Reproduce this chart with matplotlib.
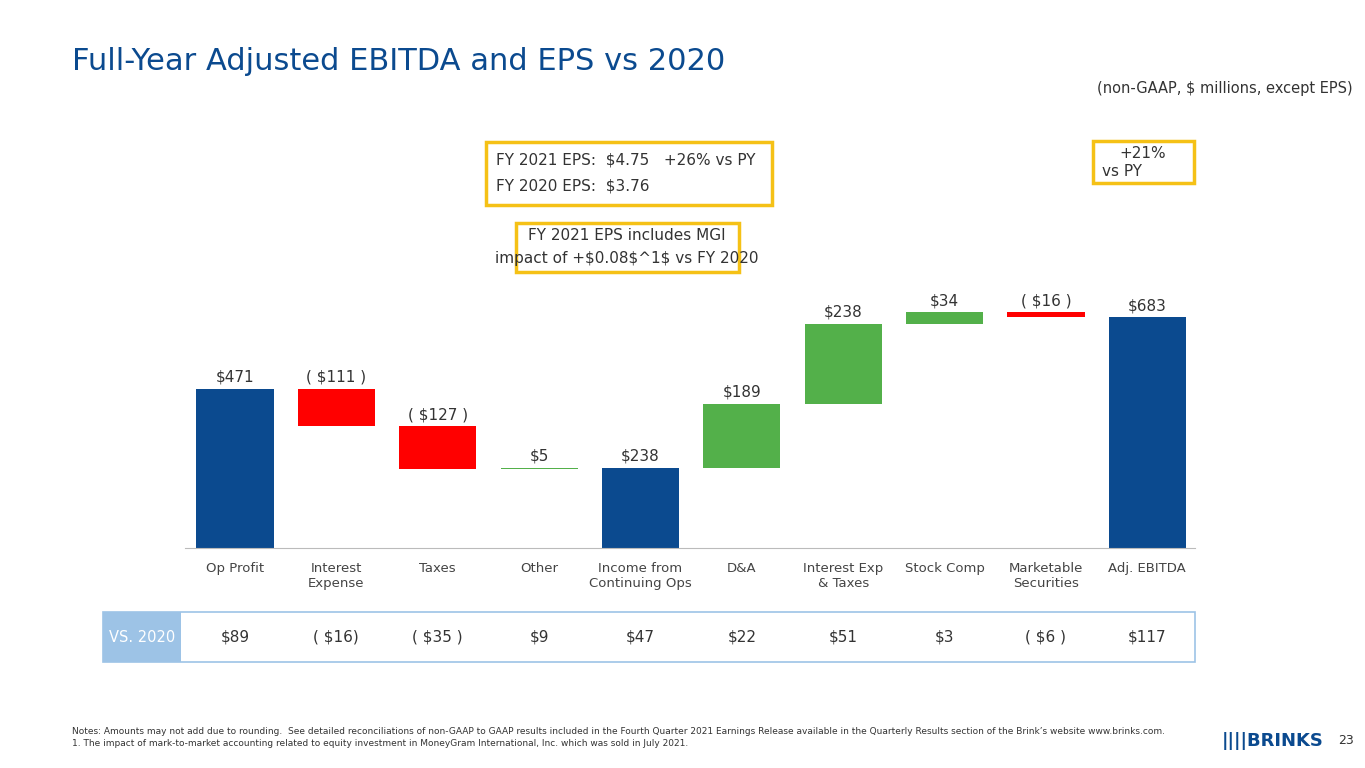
import matplotlib.pyplot as plt
from matplotlib.patches import Rectangle

categories = ['Op Profit', 'Interest\nExpense', 'Taxes', 'Other', 'Income from\nContinuing Ops',
              'D&A', 'Interest Exp\n& Taxes', 'Stock Comp', 'Marketable\nSecurities', 'Adj. EBITDA']
values = [471, -111, -127, 5, 238, 189, 238, 34, -16, 683]
is_total = [True, False, False, False, True, False, False, False, False, True]
labels = ['$471', '( $111 )', '( $127 )', '$5', '$238', '$189', '$238', '$34', '( $16 )', '$683']
vs_2020 = ['$89', '( $16)', '( $35 )', '$9', '$47', '$22', '$51', '$3', '( $6 )', '$117']

BLUE = '#0B4A8F'
RED = '#FF0000'
GREEN = '#53B04A'
YEL = '#F5C116'
W, H = 1365, 768

fig = plt.figure(figsize=(W / 100, H / 100), dpi=100)
ax = fig.add_axes([185 / W, 1 - 548 / H, (1195 - 185) / W, (548 - 280) / H])
ax.set_xlim(-0.493, 9.47)
ax.set_ylim(0, 794)

run = 0
for i, (v, tot) in enumerate(zip(values, is_total)):
    if tot:
        bottom, height, col = 0, v, BLUE
        run = v
    else:
        bottom = run if v > 0 else run + v
        height = abs(v)
        col = GREEN if v > 0 else RED
        run += v
    ax.bar(i, height, bottom=bottom, width=0.76, color=col)
    ax.text(i, bottom + height + 12, labels[i], ha='center', va='bottom', fontsize=11, color='#333333')

ax.set_xticks(range(len(categories)))
ax.set_xticklabels(categories, fontsize=9.5, color='#444444', va='top')
ax.tick_params(axis='x', length=0, pad=10)
ax.set_yticks([])
for s in ['top', 'right', 'left']:
    ax.spines[s].set_visible(False)
ax.spines['bottom'].set_color('#BBBBBB')


def px(x, y):
    return x / W, 1 - y / H


# title and subtitle
fig.text(*px(72, 62), 'Full-Year Adjusted EBITDA and EPS vs 2020', fontsize=22, color=BLUE, va='center')
fig.text(*px(1353, 88), '(non-GAAP, $ millions, except EPS)', fontsize=10.5, color='#333333', ha='right', va='center')

# callout boxes
def box(x0, y0, x1, y1, color=YEL, lw=2.5, fill=None):
    fig.patches.append(Rectangle(px(x0, y1), (x1 - x0) / W, (y1 - y0) / H, transform=fig.transFigure,
                                 fill=fill is not None, facecolor=fill, edgecolor=color, lw=lw))

box(486, 142, 772, 205)
fig.text(*px(496, 160), 'FY 2021 EPS:  $4.75   +26% vs PY', fontsize=11, color='#333333', va='center')
fig.text(*px(496, 186), 'FY 2020 EPS:  $3.76', fontsize=11, color='#333333', va='center')
box(516, 223, 739, 272)
fig.text(*px(627, 236), 'FY 2021 EPS includes MGI', fontsize=11, color='#333333', ha='center', va='center')
fig.text(*px(627, 258), 'impact of +$0.08$^1$ vs FY 2020', fontsize=11, color='#333333', ha='center', va='center')
box(1093, 141, 1194, 183)
fig.text(*px(1143, 153), '+21%', fontsize=11, color='#333333', ha='center', va='center')
fig.text(*px(1122, 172), 'vs PY', fontsize=11, color='#333333', ha='center', va='center')

# vs 2020 row
box(103, 612, 1195, 662, color='#9DC3E6', lw=1.2)
box(103, 612, 181, 662, color='#9DC3E6', lw=0, fill='#9DC3E6')
fig.text(*px(142, 637), 'VS. 2020', fontsize=10.5, color='white', ha='center', va='center')
for i, t in enumerate(vs_2020):
    xd = ax.transData.transform((i, 0))[0]
    fig.text(xd / W, 1 - 637 / H, t, fontsize=11, color='#333333', ha='center', va='center')

# notes
fig.text(*px(72, 731), 'Notes: Amounts may not add due to rounding.  See detailed reconciliations of non-GAAP to GAAP results included in the Fourth Quarter 2021 Earnings Release available in the Quarterly Results section of the Brink\u2019s website www.brinks.com.',
         fontsize=6.5, color='#333333', va='center')
fig.text(*px(72, 744), '1. The impact of mark-to-market accounting related to equity investment in MoneyGram International, Inc. which was sold in July 2021.',
         fontsize=6.5, color='#333333', va='center')
fig.text(*px(1222, 741), '||||BRINKS', fontsize=13, color=BLUE, weight='bold', va='center')
fig.text(*px(1338, 741), '23', fontsize=9, color='#333333', va='center')

fig.savefig('out.png', dpi=100)
